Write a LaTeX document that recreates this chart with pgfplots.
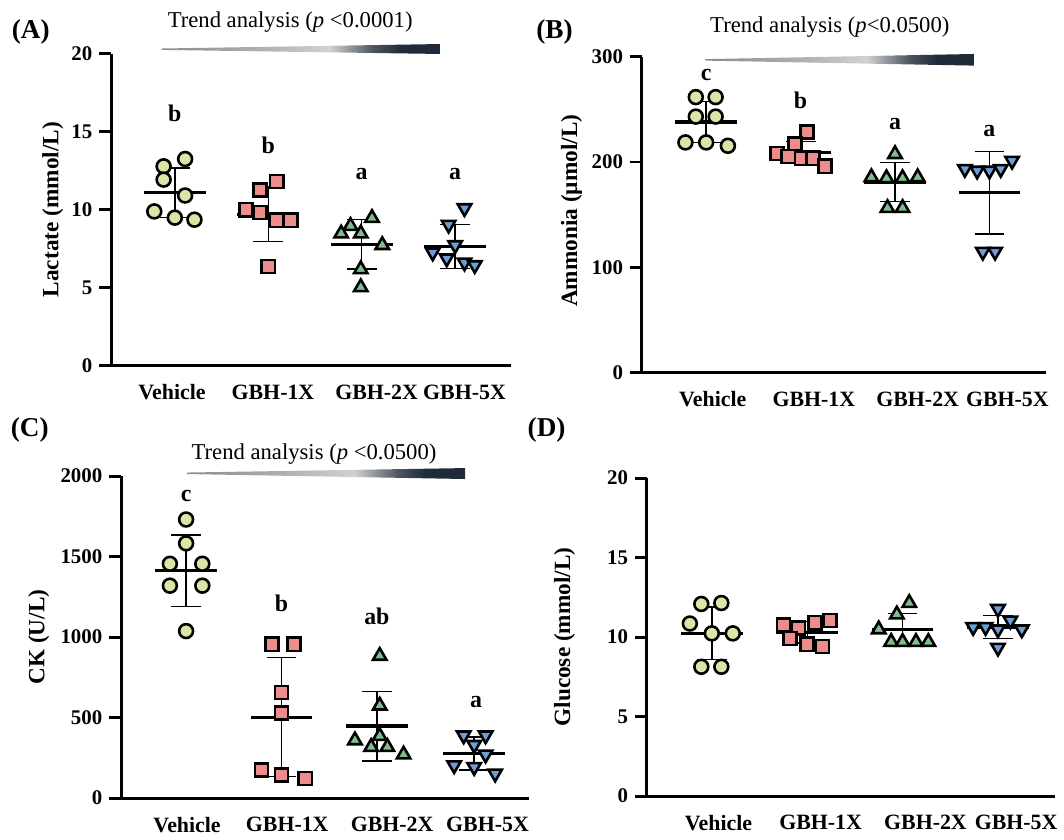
\documentclass[border=0pt]{standalone}
\usepackage{fontspec}
\setmainfont{Liberation Serif}
\usepackage{pgfplots}
\pgfplotsset{compat=1.18}

\definecolor{vehfill}{HTML}{DDE5A6}
\definecolor{onefill}{HTML}{EE8B8B}
\definecolor{twofill}{HTML}{7EBE8E}
\definecolor{fivefill}{HTML}{6C9FD7}
\definecolor{trenddark}{HTML}{1F2B38}

% the path is mapped onto 25bp--75bp of the shading
\pgfdeclarehorizontalshading{trend}{100bp}{color(0bp)=(black!45); color(25bp)=(black!45); color(42bp)=(black!32); color(55bp)=(black!18); color(63bp)=(trenddark!80); color(68bp)=(trenddark); color(100bp)=(trenddark)}

\tikzset{sig/.style={font=\bfseries\fontsize{12}{14}\selectfont}}

\pgfplotsset{
  panel/.style={
    scale only axis, anchor=south west,
    axis lines=left, axis line style={line width=1.5pt,-},
    xmin=-0.68, xmax=3.6, ymin=0,
    tick align=outside, major tick length=6pt,
    ytick style={line width=1.5pt,black},
    xtick style={draw=none},
    tick label style={font=\bfseries\fontsize{10.5}{12}\selectfont},
    xticklabel style={font=\bfseries\fontsize{11}{13}\selectfont},
    xticklabels={Vehicle,GBH-1X,GBH-2X,GBH-5X},
    /pgf/number format/assume math mode=true,
    /pgf/number format/1000 sep={},
    clip=false,
  },
  msd/.style={only marks, mark=-, mark size=15.5pt, mark options={line width=1.6pt},
    error bars/.cd, y dir=both, y explicit, error mark=|,
    error bar style={line width=0.7pt},
    error mark options={mark size=7.5pt, line width=0.7pt}},
  veh/.style={only marks, mark=*, mark size=3.5pt, mark options={fill=vehfill,draw=black,line width=1.3pt}},
  one/.style={only marks, mark=square*, mark size=3.3pt, mark options={fill=onefill,draw=black,line width=1.3pt}},
  two/.style={only marks, mark=triangle*, mark size=3.9pt, mark options={fill=twofill,draw=black,line width=1.3pt}},
  five/.style={only marks, mark=triangle*, mark size=3.9pt, mark options={rotate=180,fill=fivefill,draw=black,line width=1.3pt}},
}

\begin{document}
\begin{tikzpicture}
\begin{scope}[x=0.5pt,y=-0.5pt]
\path[use as bounding box] (0,0) rectangle (1064,839);
\node[font=\bfseries\fontsize{13.7}{15}\selectfont] at (31,32) {(A)};
\node[font=\bfseries\fontsize{13.7}{15}\selectfont] at (558,32) {(B)};
\node[font=\bfseries\fontsize{13.7}{15}\selectfont] at (30,433) {(C)};
\node[font=\bfseries\fontsize{13.7}{15}\selectfont] at (550,433) {(D)};
\node[rotate=90,font=\bfseries\fontsize{11.7}{13}\selectfont] at (53,211) {Lactate (mmol/L)};
\node[rotate=90,font=\bfseries\fontsize{11.7}{13}\selectfont] at (575,212) {Ammonia (µmol/L)};
\node[rotate=90,font=\bfseries\fontsize{11.7}{13}\selectfont] at (39,641) {CK (U/L)};
\node[rotate=90,font=\bfseries\fontsize{11.7}{13}\selectfont] at (568,641) {Glucose (mmol/L)};
\node[font=\fontsize{11.4}{13}\selectfont] at (292,22) {Trend analysis (\textit{p} <0.0001)};
\node[font=\fontsize{11.4}{13}\selectfont] at (835,27) {Trend analysis (\textit{p}<0.0500)};
\node[font=\fontsize{11.4}{13}\selectfont] at (316,457) {Trend analysis (\textit{p} <0.0500)};
\shade[shading=trend] (163,48.8) -- (443,44.3) -- (443,54.3) -- (163,50.2) -- cycle;
\shade[shading=trend] (710,59.5) -- (980,54.3) -- (980,66) -- (710,61) -- cycle;
\shade[shading=trend] (188,475.5) -- (468,471) -- (468,482) -- (188,477) -- cycle;
\end{scope}

% (A) lactate
\begin{axis}[panel, at={(56pt,-184pt)}, width=201.2pt, height=157pt,
  ymax=20, ytick={0,5,10,15,20}, xtick={-0.03,1.05,2.16,3.1}]
\addplot[msd] coordinates {(0,11.08) +- (0,1.58) (1,9.7) +- (0,1.75) (2,7.79) +- (0,1.59) (3,7.64) +- (0,1.4)};
\addplot[veh] coordinates {(0.11,13.25) (-0.12,12.78) (-0.12,11.93) (0.11,10.91) (-0.22,9.89) (0,9.49) (0.21,9.36)};
\addplot[one] coordinates {(1.09,11.8) (0.91,11.27) (0.76,10.0) (0.91,9.83) (1.09,9.32) (1.24,9.32) (1.0,6.35)};
\addplot[two] coordinates {(2.11,9.47) (1.88,8.96) (1.78,8.47) (1.99,8.47) (2.22,7.73) (1.99,6.18) (1.99,5.03)};
\addplot[five] coordinates {(3.1,10.1) (2.93,9.04) (2.76,7.26) (3.0,7.73) (2.91,6.88) (3.1,6.62) (3.21,6.45)};
\node[sig] at (axis cs:0,16.2) {b};
\node[sig] at (axis cs:1,14.1) {b};
\node[sig] at (axis cs:2,12.3) {a};
\node[sig] at (axis cs:3,12.3) {a};
\end{axis}

% (B) ammonia
\begin{axis}[panel, at={(323pt,-187.5pt)}, width=203.3pt, height=159pt,
  ymax=300, ytick={0,100,200,300}, xtick={0.07,1.14,2.24,3.19}]
\addplot[msd] coordinates {(0,237.9) +- (0,19.3) (1,209.1) +- (0,10.5) (2,180.8) +- (0,18.5) (3,170.8) +- (0,39.2)};
\addplot[veh] coordinates {(-0.11,261.6) (0.1,261.6) (-0.11,243.1) (0.1,243.1) (-0.22,218.6) (0,218.6) (0.23,215.4)};
\addplot[one] coordinates {(1.07,228.6) (0.94,217) (0.75,208.2) (0.87,205.3) (1.01,203.5) (1.13,203.5) (1.26,195.9)};
\addplot[two] coordinates {(2.0,207.5) (1.75,185.5) (1.91,184.6) (2.08,184.6) (2.24,185.5) (1.92,156.3) (2.08,156.3)};
\addplot[five] coordinates {(2.74,193.4) (2.87,191.8) (3.0,191.8) (3.12,193.4) (3.24,201.2) (2.93,114.8) (3.06,114.8)};
\node[sig] at (axis cs:0,283) {c};
\node[sig] at (axis cs:1,259) {b};
\node[sig] at (axis cs:2,236) {a};
\node[sig] at (axis cs:3,229) {a};
\end{axis}

% (C) CK
\begin{axis}[panel, at={(61pt,-401.5pt)}, width=205.4pt, height=162pt,
  ymax=2000, ytick={0,500,1000,1500,2000}, xtick={0.01,1.06,2.16,3.16}]
\addplot[msd] coordinates {(0,1412) +- (0,221) (1,502) +- (0,370) (2,447) +- (0,216) (3.02,276) +- (0,102)};
\addplot[veh] coordinates {(0,1730) (0,1582) (-0.17,1455) (0.17,1455) (-0.17,1319) (0.17,1319) (0,1037)};
\addplot[one] coordinates {(0.9,955) (1.13,955) (1.0,656) (1.0,529) (0.79,173) (1.0,142) (1.25,122)};
\addplot[two] coordinates {(2.03,883) (2.03,574) (1.77,358) (2.03,385) (1.94,317) (2.11,317) (2.28,270)};
\addplot[five] coordinates {(2.91,389) (3.14,389) (3.02,330) (3.14,270) (2.81,204) (3.02,193) (3.24,152)};
\node[sig] at (axis cs:0,1877) {c};
\node[sig] at (axis cs:1,1210) {b};
\node[sig] at (axis cs:2,1130) {ab};
\node[sig] at (axis cs:3.04,594) {a};
\end{axis}

% (D) glucose
\begin{axis}[panel, at={(325.5pt,-400.5pt)}, width=205.4pt, height=160pt,
  ymax=20, ytick={0,5,10,15,20}, xtick={0.07,1.14,2.24,3.19}]
\addplot[msd] coordinates {(0,10.23) +- (0,1.65) (1,10.31) +- (0,0.68) (2,10.48) +- (0,1.0) (3,10.63) +- (0,0.72)};
\addplot[veh] coordinates {(-0.11,12.08) (0.1,12.14) (-0.23,10.85) (0,10.23) (0.22,10.23) (-0.11,8.13) (0.1,8.13)};
\addplot[one] coordinates {(0.75,10.75) (0.91,10.58) (1.08,10.9) (1.24,11.04) (0.82,9.9) (1.0,9.54) (1.16,9.4)};
\addplot[two] coordinates {(2.07,12.14) (1.94,11.42) (1.75,10.48) (1.88,9.69) (2.0,9.69) (2.14,9.69) (2.27,9.69)};
\addplot[five] coordinates {(3.0,11.77) (3.13,11.04) (2.74,10.63) (2.87,10.63) (3.0,10.48) (3.25,10.48) (3.0,9.33)};
\end{axis}
\end{tikzpicture}
\end{document}
